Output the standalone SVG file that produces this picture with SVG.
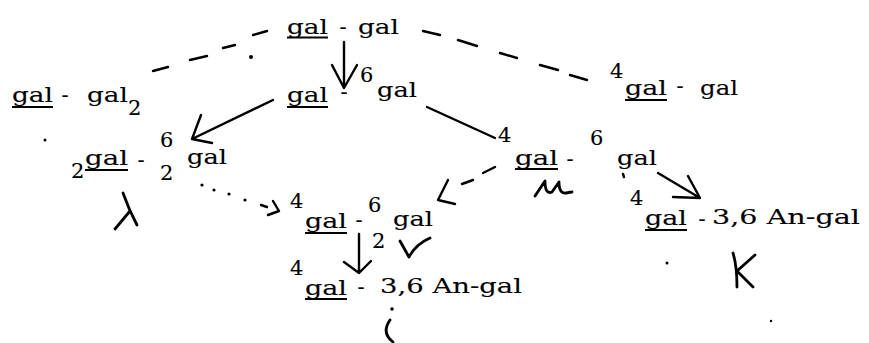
<svg xmlns="http://www.w3.org/2000/svg" width="869" height="343" viewBox="0 0 869 343">
<style>
text{font-family:"DejaVu Serif","Liberation Serif",serif;font-size:21px;fill:#000;stroke:#000;stroke-width:0.12}
.u{stroke:#000;stroke-width:1.8}
.c{fill:none;stroke:#000;stroke-width:2.4;stroke-linecap:round;stroke-linejoin:round}
.h{fill:none;stroke:#000;stroke-width:2.8;stroke-linecap:round;stroke-linejoin:round}
.m{text-anchor:middle}
</style>
<rect width="869" height="343" fill="#fff"/>
<g id="connectors">
<path class="c" d="M153,71 L168,67 M190,60 L207,56 M223,48 L235,45 M253,35 L267,31"/>
<path class="c" d="M423,31 L440,35 M458,40 L477,46 M500,53 L517,58 M540,65 L558,70 M570,75 L587,80"/>
<path class="c" d="M344,42 L344,87 M332,65 L344,88 L357,65"/>
<path class="c" d="M273,100 L192,139 M201,115 L192,139 L212,143"/>
<path class="c" d="M427,107 L495,138"/>
<g fill="#000"><circle cx="202" cy="185" r="1.6"/><circle cx="214" cy="190" r="1.6"/><circle cx="229" cy="194" r="1.6"/><circle cx="245" cy="200" r="1.6"/></g>
<path class="c" d="M261,205 L267,207 M273,201 L279,211 L268,215"/>
<path class="c" d="M483,173 L495,167 M462,184 L473,180 M448,180 L438,200 L455,204"/>
<path class="c" d="M658,173 L700,198 M688,176 L700,198 L673,197"/>
<path class="c" d="M359,234 L359,273 M344,262 L359,273 L371,261"/>
</g>
<g id="n-top">
<text x="287" y="34" textLength="41" lengthAdjust="spacingAndGlyphs">gal</text>
<line class="u" x1="287" y1="37.5" x2="328" y2="37.5"/>
<text class="m" x="343" y="34">-</text>
<text x="358" y="34" textLength="41" lengthAdjust="spacingAndGlyphs">gal</text>
</g>
<g id="n-left">
<text x="12" y="102" textLength="41" lengthAdjust="spacingAndGlyphs">gal</text>
<line class="u" x1="12" y1="107" x2="53" y2="107"/>
<text class="m" x="65" y="102">-</text>
<text x="87" y="102" textLength="41" lengthAdjust="spacingAndGlyphs">gal</text>
<text x="128" y="115">2</text>
</g>
<g id="n-mid">
<text x="287" y="102" textLength="41" lengthAdjust="spacingAndGlyphs">gal</text>
<line class="u" x1="287" y1="107" x2="328" y2="107"/>
<text class="m" x="344" y="99">-</text>
<text x="360" y="82">6</text>
<text x="377" y="97" textLength="40" lengthAdjust="spacingAndGlyphs">gal</text>
</g>
<g id="n-right">
<text x="610" y="78">4</text>
<text x="625" y="95" textLength="42" lengthAdjust="spacingAndGlyphs">gal</text>
<line class="u" x1="625" y1="100" x2="667" y2="100"/>
<text class="m" x="680" y="93">-</text>
<text x="700" y="95" textLength="38" lengthAdjust="spacingAndGlyphs">gal</text>
</g>
<g id="n-lambda">
<text x="71" y="178">2</text>
<text x="85" y="165" textLength="43" lengthAdjust="spacingAndGlyphs">gal</text>
<line class="u" x1="85" y1="170" x2="128" y2="170"/>
<text class="m" x="141" y="167">-</text>
<text x="160" y="147">6</text>
<text x="160" y="180">2</text>
<text x="187" y="164" textLength="40" lengthAdjust="spacingAndGlyphs">gal</text>
<path class="h" d="M123,193 Q129,210 137,225 M130,211 L115,229"/>
</g>
<g id="n-mu">
<text x="498" y="142">4</text>
<text x="515" y="165" textLength="43" lengthAdjust="spacingAndGlyphs">gal</text>
<line class="u" x1="515" y1="169" x2="558" y2="169"/>
<text class="m" x="570" y="166">-</text>
<text x="590" y="145">6</text>
<text x="617" y="165" textLength="40" lengthAdjust="spacingAndGlyphs">gal</text>
<path class="h" d="M535,196 L545,181 Q545,195 552,192 L559,182 Q559,194 566,193 L572,192"/>
<path class="c" d="M623,174 L624,177"/>
</g>
<g id="n-nu">
<text x="290" y="208">4</text>
<text x="305" y="228" textLength="42" lengthAdjust="spacingAndGlyphs">gal</text>
<line class="u" x1="305" y1="233" x2="347" y2="233"/>
<text class="m" x="359" y="227">-</text>
<text x="368" y="212">6</text>
<text x="372" y="248">2</text>
<text x="393" y="226" textLength="40" lengthAdjust="spacingAndGlyphs">gal</text>
<path class="h" d="M400,241 L409,257 Q416,244 430,238"/>
</g>
<g id="n-iota">
<text x="290" y="275">4</text>
<text x="305" y="295" textLength="42" lengthAdjust="spacingAndGlyphs">gal</text>
<line class="u" x1="305" y1="299" x2="347" y2="299"/>
<text class="m" x="361" y="294">-</text>
<text x="380" y="293" textLength="142" lengthAdjust="spacingAndGlyphs">3,6 An-gal</text>
<circle cx="392" cy="309" r="1.8"/>
<path class="h" d="M390,320 Q381,333 393,342"/>
</g>
<g id="n-kappa">
<text x="630" y="205">4</text>
<text x="645" y="225" textLength="42" lengthAdjust="spacingAndGlyphs">gal</text>
<line class="u" x1="645" y1="230" x2="687" y2="230"/>
<text class="m" x="702" y="226">-</text>
<text x="712" y="224" textLength="148" lengthAdjust="spacingAndGlyphs">3,6 An-gal</text>
<path class="h" d="M733,253 Q737,266 737,287 M755,255 L737,271 L753,287"/>
</g>
<g id="marks" fill="#000">
<circle cx="251" cy="57" r="2"/>
<circle cx="45" cy="140" r="1.5"/>
<circle cx="667" cy="263" r="1.5"/>
<circle cx="771" cy="321" r="1.2"/>
</g>
</svg>
